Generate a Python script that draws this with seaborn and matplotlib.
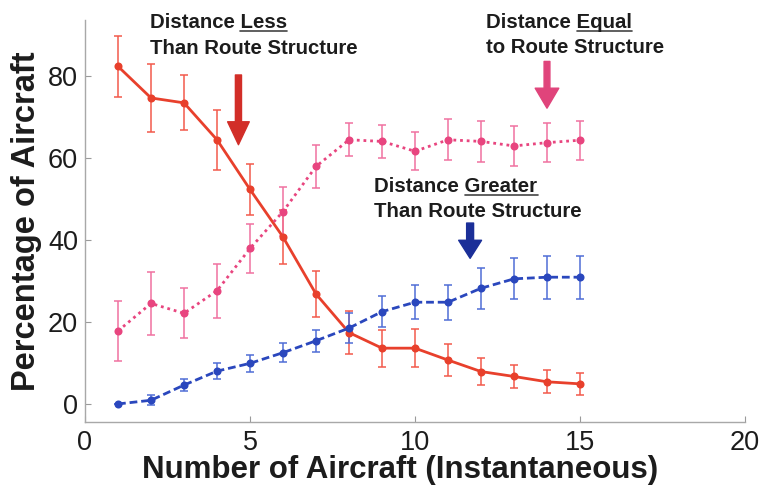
import matplotlib
matplotlib.use("Agg")
import matplotlib.pyplot as plt
import pandas as pd
import seaborn as sns
from matplotlib.patches import FancyArrowPatch
from matplotlib.lines import Line2D

# Number of aircraft in the sector at the same time
aircraft = list(range(1, 16))

# Percentage of aircraft whose flown distance is less / equal / greater than the route structure
pct_less = [82.3, 74.6, 73.4, 64.4, 52.3, 40.7, 26.8, 17.4, 13.6, 13.6, 10.7, 7.9, 6.7, 5.4, 4.9]
err_less = [7.5, 8.2, 6.7, 7.3, 6.2, 6.5, 5.7, 5.3, 4.5, 4.6, 3.9, 3.2, 2.9, 2.8, 2.7]

pct_equal = [17.8, 24.5, 22.1, 27.6, 37.9, 46.9, 57.9, 64.4, 64.0, 61.6, 64.4, 64.0, 62.9, 63.7, 64.3]
err_equal = [7.4, 7.7, 6.1, 6.6, 6.0, 6.0, 5.3, 4.0, 4.0, 4.6, 5.0, 5.0, 4.8, 4.7, 4.8]

pct_greater = [0.0, 0.9, 4.6, 8.0, 9.9, 12.5, 15.4, 18.5, 22.5, 24.8, 24.8, 28.2, 30.5, 30.9, 30.9]
err_greater = [0.0, 1.2, 1.5, 1.9, 2.0, 2.3, 2.7, 3.6, 3.8, 4.1, 4.3, 5.0, 5.0, 5.2, 5.2]

x_ticks = [0, 5, 10, 15, 20]
y_ticks = [0, 20, 40, 60, 80]

series = ["less", "equal", "greater"]
line_colors = {"less": "#E8402C", "equal": "#E8457F", "greater": "#2A47BD"}
bar_colors = {"less": "#F25A4C", "equal": "#F072A0", "greater": "#4F6DD6"}
INK = "#1c1c1c"

df = pd.concat([
    pd.DataFrame({"n": aircraft, "pct": pct_less, "err": err_less, "series": "less"}),
    pd.DataFrame({"n": aircraft, "pct": pct_equal, "err": err_equal, "series": "equal"}),
    pd.DataFrame({"n": aircraft, "pct": pct_greater, "err": err_greater, "series": "greater"}),
], ignore_index=True)

sns.set_theme(style="white")
plt.rcParams["font.family"] = ["Liberation Sans", "DejaVu Sans"]

W, H = 761, 487
fig = plt.figure(figsize=(W / 100, H / 100), dpi=100)
fig.patch.set_facecolor("white")
ax = fig.add_axes([85 / W, 1 - 422 / H, 660 / W, 402 / H])

# error bars first, underneath the mean lines
for s in series:
    sub = df[df["series"] == s]
    ax.errorbar(sub["n"], sub["pct"], yerr=sub["err"], fmt="none",
                ecolor=bar_colors[s], elinewidth=1.1, capsize=2.8,
                capthick=1.1, zorder=2)

sns.lineplot(data=df, x="n", y="pct", hue="series", style="series",
             palette=line_colors, hue_order=series, style_order=series,
             dashes={"less": "", "equal": (1.0, 1.4), "greater": (2.8, 1.4)},
             markers={"less": "o", "equal": "o", "greater": "o"},
             markersize=5.8, markeredgewidth=0, linewidth=2.0,
             legend=False, ax=ax, zorder=3)
for ln in ax.get_lines():
    ln.set_dash_capstyle("butt")

ax.set_xlim(0, 20)
ax.set_ylim(-4.4, 93.6)
ax.set_xticks(x_ticks)
ax.set_yticks(y_ticks)
ax.tick_params(axis="both", which="major", direction="in", length=4,
               width=0.8, color="#9a9a9a", labelsize=19.5, labelcolor=INK,
               bottom=True, left=True)
ax.tick_params(axis="x", pad=6)
ax.tick_params(axis="y", pad=5)
sns.despine(ax=ax)
for side in ("left", "bottom"):
    ax.spines[side].set_color("#a8a8a8")
    ax.spines[side].set_linewidth(1.0)

ax.set_xlabel("Number of Aircraft (Instantaneous)", fontsize=22.5,
              fontweight="bold", color=INK, labelpad=0)
ax.xaxis.set_label_coords((400 - 85) / 660, -0.082, transform=ax.transAxes)
ax.set_ylabel("Percentage of Aircraft", fontsize=23.5,
              fontweight="bold", color=INK, labelpad=4)

# pointer arrows
arrows = [
    ((4.65, 80.2), (4.65, 63.2), "#D22E28", 15.6, 16.5, 4.4),
    ((14.0, 83.5), (14.0, 72.1), "#E0447B", 17.0, 14.4, 4.2),
    ((11.67, 44.1), (11.67, 35.5), "#1B2F98", 16.5, 13.0, 5.0),
]
for start, end, col, hw, hl, tw in arrows:
    ax.add_patch(FancyArrowPatch(
        start, end, mutation_scale=1,
        arrowstyle=f"simple,head_width={hw},head_length={hl},tail_width={tw}",
        color=col, shrinkA=0, shrinkB=0, zorder=5, clip_on=False))

# annotation blocks with an underlined key word
fig.canvas.draw()
renderer = fig.canvas.get_renderer()
TXT = dict(fontsize=14.7, fontweight="bold", color=INK, ha="left", va="baseline")


def note(x_px, base_px, lead, key, second, gap=25.5):
    fx = x_px / W
    t = fig.text(fx, 1 - base_px / H, lead + key, **TXT)
    fig.text(fx, 1 - (base_px + gap) / H, second, **TXT)
    full = t.get_window_extent(renderer)
    probe = fig.text(0, 0, key, **TXT)
    kw = probe.get_window_extent(renderer).width
    probe.remove()
    x1 = full.x1
    x0 = x1 - kw
    yline = (H - base_px - 2.8) / H
    fig.add_artist(Line2D([x0 / W, x1 / W], [yline, yline],
                          transform=fig.transFigure, lw=1.2, color="#444444"))


note(150.0, 28.3, "Distance ", "Less", "Than Route Structure")
note(486.0, 28.3, "Distance ", "Equal", "to Route Structure", gap=25.0)
note(374.5, 191.7, "Distance ", "Greater", "Than Route Structure", gap=25.0)

fig.savefig("out.png", dpi=100, facecolor="white")
